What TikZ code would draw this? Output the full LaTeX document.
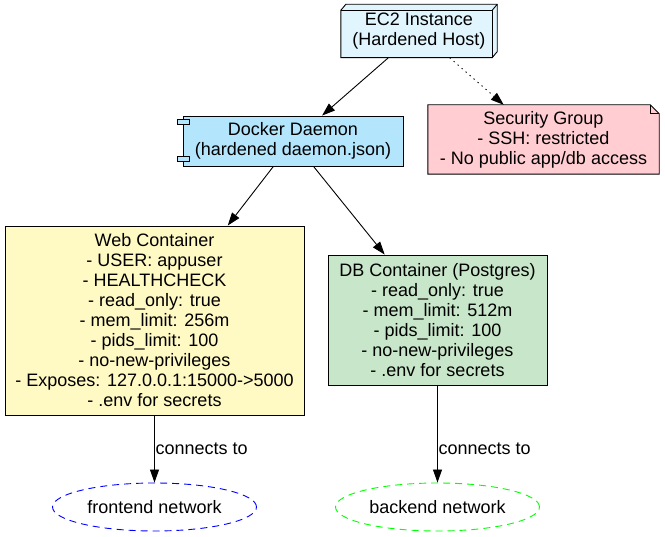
\documentclass[tikz,border=0pt]{standalone}
\usepackage{fontspec}
\setmainfont{Liberation Sans}
\usetikzlibrary{arrows.meta,calc,shapes.geometric}
\definecolor{ecfill}{HTML}{E1F5FE}
\definecolor{dkfill}{HTML}{B3E5FC}
\definecolor{sgfill}{HTML}{FFCDD2}
\definecolor{webfill}{HTML}{FFF9C4}
\definecolor{dbfill}{HTML}{C8E6C9}
\definecolor{netgreen}{HTML}{00FF00}
\tikzset{
  lbl/.style={font=\fontsize{18}{20}\selectfont, align=center, inner sep=0pt},
  boxnode/.style={lbl, draw=black, line width=0.9pt, rectangle},
  netnode/.style={lbl, ellipse, line width=0.9pt, dash pattern=on 7pt off 5pt,
    minimum width=204pt, minimum height=48pt},
  conn/.style={line width=0.9pt, -{Triangle[length=13pt,width=9pt]}},
}
\begin{document}
\begin{tikzpicture}[x=1pt,y=-1pt]
\useasboundingbox (0,0) rectangle (665,537);

% EC2 box3d (node used as bounding area)
\node[lbl, minimum width=156pt, minimum height=53pt] (ec2) at (419,31) {EC2 Instance\\(Hardened Host)};
\path[fill=ecfill, draw=black, line width=0.9pt]
  (ec2.south west) -- ($(ec2.north west)+(0,6)$) -- ($(ec2.north west)+(5,0)$)
  -- (ec2.north east) -- ($(ec2.south east)+(0,-6)$) -- ($(ec2.south east)+(-5,0)$) -- cycle;
\draw[line width=0.9pt] ($(ec2.north west)+(0,6)$) -- ($(ec2.north east)+(-5,6)$) -- ($(ec2.south east)+(-5,0)$);
\draw[line width=0.9pt] ($(ec2.north east)+(-5,6)$) -- (ec2.north east);
\node[lbl] at (ec2.center) {EC2 Instance\\(Hardened Host)};

% Docker daemon (component)
\node[boxnode, fill=dkfill, minimum width=220pt, minimum height=50pt] (dock) at (293,141) {Docker Daemon\\(hardened daemon.json)};
\draw[fill=dkfill, line width=0.9pt] ($(dock.north west)+(-5,4)$) rectangle ($(dock.north west)+(7,9)$);
\draw[fill=dkfill, line width=0.9pt] ($(dock.south west)+(-5,-10)$) rectangle ($(dock.south west)+(7,-5)$);

% Security group (note)
\node[lbl, minimum width=231pt, minimum height=69pt] (sg) at (543.5,139.5) {Security Group\\- SSH: restricted\\- No public app/db access};
\path[fill=sgfill, draw=black, line width=0.9pt]
  (sg.south west) -- (sg.north west) -- ($(sg.north east)+(-9,0)$) -- ($(sg.north east)+(0,9)$) -- (sg.south east) -- cycle;
\draw[line width=0.9pt] ($(sg.north east)+(-9,0)$) -- ($(sg.north east)+(-9,9)$) -- ($(sg.north east)+(0,9)$);
\node[lbl] at (sg.center) {Security Group\\- SSH: restricted\\- No public app/db access};

% Containers
\node[boxnode, fill=webfill, minimum width=299pt, minimum height=189pt] (web) at (154.5,320.5)
  {Web Container\\- USER: appuser\\- HEALTHCHECK\\- read\_only: true\\- mem\_limit: 256m\\- pids\_limit: 100\\- no-new-privileges\\- Exposes: 127.0.0.1:15000->5000\\- .env for secrets};
\node[boxnode, fill=dbfill, minimum width=219pt, minimum height=130pt] (db) at (437.5,320)
  {DB Container (Postgres)\\- read\_only: true\\- mem\_limit: 512m\\- pids\_limit: 100\\- no-new-privileges\\- .env for secrets};

% Networks
\node[netnode, draw=blue] (fe) at (154.5,507) {frontend network};
\node[netnode, draw=netgreen] (be) at (437.5,507) {backend network};

% Connectors
\draw[conn] (ec2) -- (dock);
\draw[conn, dash pattern=on 1.3pt off 4pt] (ec2) -- (sg);
\draw[conn] (dock) -- (web);
\draw[conn] (dock) -- (db);
\draw[conn] (web) -- (fe);
\draw[conn] (db) -- (be);
\node[lbl, anchor=west] (l1) at ($(fe.north)+(1,-34)$) {connects to};
\node[lbl, anchor=west] (l2) at ($(be.north)+(1,-34)$) {connects to};
\end{tikzpicture}
\end{document}
